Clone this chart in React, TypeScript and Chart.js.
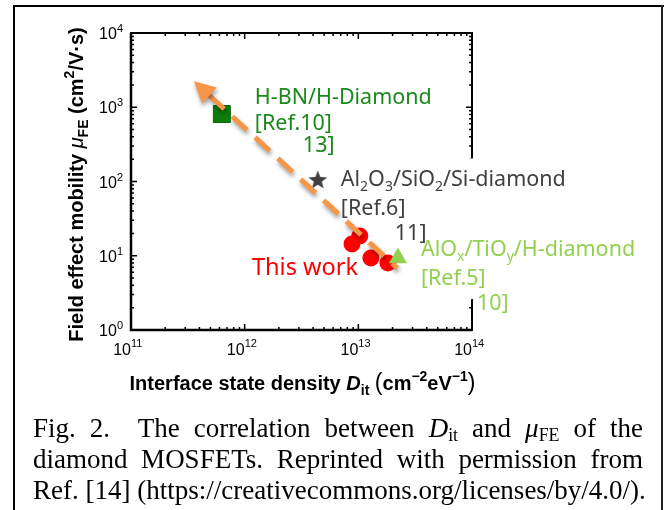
import React, { useEffect, useRef } from 'react';
import { Chart, registerables } from 'chart.js';

Chart.register(...registerables);

// ---- data ----
const xTickValues = [1e11, 1e12, 1e13, 1e14];
const xTickExponents = ['11', '12', '13', '14'];
const yTickValues = [1, 10, 100, 1000, 10000];
const yTickExponents = ['0', '1', '2', '3', '4'];

const hbnPoints = [{ x: 6.3e11, y: 810 }];
const al2o3Points = [{ x: 4.4e12, y: 105 }];
const thisWorkPoints = [
  { x: 8.8e12, y: 14.4 },
  { x: 1.03e13, y: 18.5 },
  { x: 1.29e13, y: 9.3 },
  { x: 1.82e13, y: 8.0 },
];
const aloxPoints = [{ x: 2.23e13, y: 9.3 }];
// trend arrow: from arrow-head base to tail
const trendArrow = [
  { x: 4.9e11, y: 1440 },
  { x: 2.2e13, y: 6.8 },
];

type Part = { t: string; sub?: boolean };
type Line = { dx: number; dy: number; parts: Part[] };
type Group = { dataset: number; point: number; color: string; size: number; box: boolean; lines: Line[] };

const labelGroups: Group[] = [
  {
    dataset: 1, point: 0, color: '#1A8A1A', size: 21.5, box: false,
    lines: [
      { dx: 33, dy: -10.5, parts: [{ t: 'H-BN/H-Diamond' }] },
      { dx: 33, dy: 16, parts: [{ t: '[Ref.10]' }] },
      { dx: 81, dy: 37.5, parts: [{ t: '13]' }] },
    ],
  },
  {
    dataset: 2, point: 0, color: '#404040', size: 21.5, box: true,
    lines: [
      { dx: 23, dy: 6, parts: [{ t: 'Al' }, { t: '2', sub: true }, { t: 'O' }, { t: '3', sub: true }, { t: '/SiO' }, { t: '2', sub: true }, { t: '/Si-diamond' }] },
      { dx: 23, dy: 35, parts: [{ t: '[Ref.6]' }] },
      { dx: 77, dy: 60, parts: [{ t: '11]' }] },
    ],
  },
  {
    dataset: 4, point: 0, color: '#92D050', size: 21.5, box: true,
    lines: [
      { dx: 23, dy: -2, parts: [{ t: 'AlO' }, { t: 'x', sub: true }, { t: '/TiO' }, { t: 'y', sub: true }, { t: '/H-diamond' }] },
      { dx: 23, dy: 27, parts: [{ t: '[Ref.5]' }] },
      { dx: 79, dy: 52, parts: [{ t: '10]' }] },
    ],
  },
  {
    dataset: 3, point: 0, color: '#FF0000', size: 23.5, box: false,
    lines: [{ dx: -100, dy: 31, parts: [{ t: 'This work' }] }],
  },
];

type RPart = { t: string; font: string; dy?: number };

function richWidth(ctx: CanvasRenderingContext2D, parts: RPart[]) {
  let w = 0;
  for (const p of parts) {
    ctx.font = p.font;
    w += ctx.measureText(p.t).width;
  }
  return w;
}

function drawRich(ctx: CanvasRenderingContext2D, parts: RPart[], x: number, y: number, align: string) {
  const total = richWidth(ctx, parts);
  let cx = align === 'center' ? x - total / 2 : align === 'right' ? x - total : x;
  for (const p of parts) {
    ctx.font = p.font;
    ctx.fillText(p.t, cx, y + (p.dy || 0));
    cx += ctx.measureText(p.t).width;
  }
  return total;
}

function makeStar(r: number, color: string) {
  const c = document.createElement('canvas');
  c.width = c.height = Math.ceil(2 * r + 2);
  const g = c.getContext('2d')!;
  g.fillStyle = color;
  g.beginPath();
  for (let i = 0; i < 10; i++) {
    const rr = i % 2 === 0 ? r : r * 0.42;
    const a = -Math.PI / 2 + (i * Math.PI) / 5;
    g.lineTo(c.width / 2 + rr * Math.cos(a), c.height / 2 + rr * Math.sin(a) + 0.5);
  }
  g.closePath();
  g.fill();
  return c;
}

const SANS = '"Liberation Sans", Arial, sans-serif';
const LABEL = '"Noto Sans", sans-serif';

const framePlugin = {
  id: 'frame',
  beforeDatasetsDraw(chart: any) {
    const ctx: CanvasRenderingContext2D = chart.ctx;
    const { left, right, top, bottom } = chart.chartArea;
    const xs = chart.scales.x;
    const ys = chart.scales.y;
    ctx.save();
    ctx.strokeStyle = '#000';
    ctx.fillStyle = '#000';
    // ticks (inward, all sides)
    ctx.lineWidth = 1.5;
    const majorLen = 6;
    const minorLen = 3;
    ctx.beginPath();
    for (let e = 11; e <= 14; e++) {
      for (let k = 1; k <= 9; k++) {
        const v = k * Math.pow(10, e);
        if (v > 1e14 * 1.0001) break;
        const px = xs.getPixelForValue(v);
        const len = k === 1 ? majorLen : minorLen;
        ctx.moveTo(px, bottom);
        ctx.lineTo(px, bottom - len);
        ctx.moveTo(px, top);
        ctx.lineTo(px, top + len);
      }
    }
    for (let e = 0; e <= 4; e++) {
      for (let k = 1; k <= 9; k++) {
        const v = k * Math.pow(10, e);
        if (v > 1e4 * 1.0001) break;
        const py = ys.getPixelForValue(v);
        const len = k === 1 ? majorLen : minorLen;
        ctx.moveTo(left, py);
        ctx.lineTo(left + len, py);
        ctx.moveTo(right, py);
        ctx.lineTo(right - len, py);
      }
    }
    ctx.stroke();
    // frame
    ctx.lineWidth = 2;
    ctx.strokeRect(left, top, right - left, bottom - top);
    ctx.lineWidth = 2.5;
    ctx.beginPath();
    ctx.moveTo(left, top);
    ctx.lineTo(left, bottom);
    ctx.lineTo(right, bottom);
    ctx.stroke();

    // tick labels
    ctx.textBaseline = 'alphabetic';
    const main = `16px ${SANS}`;
    const sup = `11px ${SANS}`;
    xTickValues.forEach((v, i) => {
      const px = xs.getPixelForValue(v);
      ctx.font = main;
      ctx.textAlign = 'right';
      ctx.fillText('10', px, 355);
      ctx.font = sup;
      ctx.textAlign = 'left';
      ctx.fillText(xTickExponents[i], px, 347);
    });
    ctx.textAlign = 'left';
    yTickValues.forEach((v, i) => {
      const py = ys.getPixelForValue(v);
      drawRich(ctx, [{ t: '10', font: main }, { t: yTickExponents[i], font: sup, dy: -7 }], left - 8, py + 6, 'right');
    });

    // axis titles
    const b20 = `bold 20px ${SANS}`;
    const b14 = `bold 14px ${SANS}`;
    const paren = `23px ${SANS}`;
    drawRich(
      ctx,
      [
        { t: 'Interface state density ', font: b20 },
        { t: 'D', font: `italic bold 20px ${SANS}` },
        { t: 'it', font: b14, dy: 5 },
        { t: ' ', font: b20 },
        { t: '(', font: paren },
        { t: 'cm', font: b20 },
        { t: '\u22122', font: b14, dy: -9 },
        { t: 'eV', font: b20 },
        { t: '\u22121', font: b14, dy: -9 },
        { t: ')', font: paren },
      ],
      (left + right) / 2 + 1,
      390,
      'center'
    );
    ctx.save();
    ctx.translate(83, (top + bottom) / 2 + 3);
    ctx.rotate(-Math.PI / 2);
    drawRich(
      ctx,
      [
        { t: 'Field effect mobility ', font: b20 },
        { t: '\u03bc', font: `italic 20px ${SANS}` },
        { t: 'FE', font: b14, dy: 5 },
        { t: ' (cm', font: b20 },
        { t: '2', font: b14, dy: -9 },
        { t: '/V\u00b7s)', font: b20 },
      ],
      0,
      0,
      'center'
    );
    ctx.restore();

    // annotation labels (white text boxes first, then all text)
    const prepared = labelGroups.map((g) => {
      const pt = chart.getDatasetMeta(g.dataset).data[g.point];
      const mainF = `${g.size}px ${LABEL}`;
      const subF = `${Math.round(g.size * 0.65)}px ${LABEL}`;
      const toR = (parts: Part[]): RPart[] =>
        parts.map((p) => ({ t: p.t, font: p.sub ? subF : mainF, dy: p.sub ? g.size * 0.22 : 0 }));
      return { g, ax: pt.x, ay: pt.y, toR };
    });
    ctx.fillStyle = '#fff';
    for (const { g, ax, ay, toR } of prepared) {
      if (g.box && g.lines.length >= 2) {
        const l1 = g.lines[0];
        const l2 = g.lines[1];
        const w = Math.max(richWidth(ctx, toR(l1.parts)), richWidth(ctx, toR(l2.parts)));
        const bx = ax + l1.dx - 5;
        const by = ay + l1.dy - g.size * 0.72 - 12;
        const bh = ay + l2.dy + 14 - by;
        ctx.fillRect(bx, by, w + 10, bh);
      }
    }
    for (const { g, ax, ay, toR } of prepared) {
      ctx.fillStyle = g.color;
      for (const ln of g.lines) {
        drawRich(ctx, toR(ln.parts), ax + ln.dx, ay + ln.dy, 'left');
      }
    }
    ctx.restore();
  },
  beforeDatasetDraw(chart: any, args: any) {
    if (args.index === 0) {
      const ctx = chart.ctx;
      ctx.save();
      ctx.shadowColor = 'rgba(0,0,0,0.4)';
      ctx.shadowBlur = 4;
      ctx.shadowOffsetX = 1;
      ctx.shadowOffsetY = 3;
    }
  },
  afterDatasetDraw(chart: any, args: any) {
    if (args.index === 0) chart.ctx.restore();
  },
  afterDatasetsDraw(chart: any) {
    const ctx: CanvasRenderingContext2D = chart.ctx;
    const meta = chart.getDatasetMeta(0);
    const p0 = meta.data[0];
    const p1 = meta.data[1];
    let dx = p0.x - p1.x;
    let dy = p0.y - p1.y;
    const len = Math.hypot(dx, dy);
    dx /= len;
    dy /= len;
    const headLen = 21;
    const half = 11;
    ctx.save();
    ctx.shadowColor = 'rgba(0,0,0,0.4)';
    ctx.shadowBlur = 4;
    ctx.shadowOffsetX = 1;
    ctx.shadowOffsetY = 3;
    ctx.fillStyle = '#F79646';
    ctx.beginPath();
    ctx.moveTo(p0.x + dx * headLen, p0.y + dy * headLen);
    ctx.lineTo(p0.x - dy * half, p0.y + dx * half);
    ctx.lineTo(p0.x + dy * half, p0.y - dx * half);
    ctx.closePath();
    ctx.fill();
    ctx.restore();
  },
};

export default function App() {
  const ref = useRef<HTMLCanvasElement | null>(null);

  useEffect(() => {
    document.body.style.margin = '0';
    const canvas = ref.current;
    if (!canvas) return;
    const star = makeStar(10, '#404040');
    const chart = new Chart(canvas, {
      type: 'scatter',
      data: {
        datasets: [
          {
            label: 'trend',
            data: trendArrow,
            showLine: true,
            borderColor: '#F79646',
            borderWidth: 5,
            borderDash: [20, 11],
            borderCapStyle: 'butt',
            pointRadius: 0,
            pointHoverRadius: 0,
            order: 0,
          } as any,
          {
            label: 'H-BN/H-Diamond',
            data: hbnPoints,
            pointStyle: 'rect',
            pointRadius: 12,
            pointHoverRadius: 12,
            backgroundColor: '#0B7D0B',
            borderColor: '#086A08',
            borderWidth: 1,
            order: 3,
          },
          {
            label: 'Al2O3/SiO2/Si-diamond',
            data: al2o3Points,
            pointStyle: star as any,
            pointRadius: 10,
            order: 3,
          },
          {
            label: 'This work',
            data: thisWorkPoints,
            pointStyle: 'circle',
            pointRadius: 8.5,
            pointHoverRadius: 8.5,
            backgroundColor: '#FF0000',
            borderColor: '#FF0000',
            borderWidth: 0,
            order: 2,
          },
          {
            label: 'AlOx/TiOy/H-diamond',
            data: aloxPoints,
            pointStyle: 'triangle',
            pointRadius: 10.5,
            pointHoverRadius: 10.5,
            backgroundColor: '#92D050',
            borderColor: '#92D050',
            borderWidth: 0,
            order: 1,
          },
        ],
      },
      options: {
        responsive: false,
        animation: false,
        devicePixelRatio: 1,
        layout: { padding: { left: 131, top: 33, right: 193, bottom: 180 } },
        plugins: { legend: { display: false }, tooltip: { enabled: false } },
        events: [],
        scales: {
          x: { type: 'logarithmic', min: 1e11, max: 1e14, display: false },
          y: { type: 'logarithmic', min: 1, max: 1e4, display: false },
        },
      },
      plugins: [framePlugin],
    });
    return () => chart.destroy();
  }, []);

  const capLine: React.CSSProperties = {
    position: 'absolute',
    left: 33,
    width: 610,
    font: '27px "Liberation Serif", "Times New Roman", serif',
    lineHeight: '30px',
    whiteSpace: 'nowrap',
    color: '#000',
  };
  const just: React.CSSProperties = { textAlign: 'justify', textAlignLast: 'justify' as any, whiteSpace: 'normal' };
  const sub: React.CSSProperties = { fontSize: '0.66em', position: 'relative', top: '0.22em', verticalAlign: 'baseline' };

  return (
    <div style={{ position: 'absolute', left: 0, top: 0, width: 665, height: 510, background: '#fff', overflow: 'hidden' }}>
      <canvas ref={ref} width={665} height={510} style={{ position: 'absolute', left: 0, top: 0, width: 665, height: 510 }} />
      <div style={{ position: 'absolute', left: 13, top: 5, width: 651, height: 2, background: '#000' }} />
      <div style={{ position: 'absolute', left: 13, top: 5, width: 2, height: 510, background: '#000' }} />
      <div style={{ position: 'absolute', left: 661, top: 5, width: 2, height: 510, background: '#222' }} />
      <div style={{ ...capLine, ...just, top: 413 }}>
        Fig. 2.&nbsp; The correlation between <i>D</i>
        <span style={sub}>it</span> and <i>μ</i>
        <span style={sub}>FE</span> of the
      </div>
      <div style={{ ...capLine, ...just, top: 444 }}>diamond MOSFETs. Reprinted with permission from</div>
      <div style={{ ...capLine, top: 475 }}>Ref. [14] (https://creativecommons.org/licenses/by/4.0/).</div>
    </div>
  );
}
